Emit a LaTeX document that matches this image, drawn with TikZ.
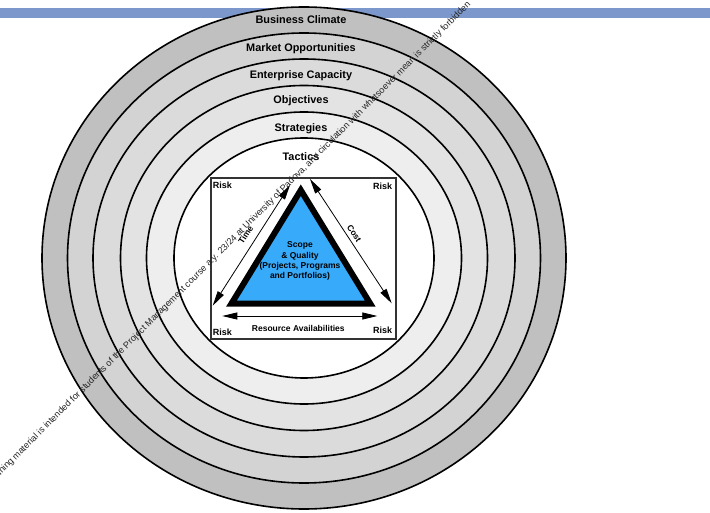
\documentclass[tikz,border=0pt]{standalone}
\usepackage{fontspec}
\setmainfont{Liberation Sans}
\usetikzlibrary{arrows.meta}
\definecolor{barblue}{RGB}{124,151,203}
\definecolor{ringA}{HTML}{C0C0C0}
\definecolor{ringB}{HTML}{D3D3D3}
\definecolor{ringC}{HTML}{DBDBDB}
\definecolor{ringD}{HTML}{E3E3E3}
\definecolor{ringE}{HTML}{EEEEEE}
\definecolor{scopeblue}{RGB}{56,170,250}

\begin{document}
\begin{tikzpicture}[x=1pt, y=-1pt,
    ring/.style={draw=black, line width=1.6pt},
    layer/.style={font=\fontsize{10.9}{12}\selectfont\bfseries},
    risk/.style={font=\fontsize{9}{10}\selectfont\bfseries},
    small/.style={font=\fontsize{8.5}{10.1}\selectfont\bfseries},
    dbl/.style={{Triangle[length=15pt,width=7pt]}-{Triangle[length=15pt,width=7pt]}, line width=0.8pt}]
    \useasboundingbox (0,0) rectangle (710,513);
    % header bar
    \fill[barblue] (0,8) rectangle (710,18);
    % rings, from outside in
    \coordinate (O) at (304,258);
    \draw[ring, fill=ringA] (O) ellipse [x radius=262, y radius=251];
    \draw[ring, fill=ringB] (O) ellipse [x radius=236.5, y radius=225];
    \draw[ring, fill=ringC] (O) ellipse [x radius=211, y radius=199];
    \draw[ring, fill=ringD] (O) ellipse [x radius=183.5, y radius=172.5];
    \draw[ring, fill=ringE] (O) ellipse [x radius=157.5, y radius=146];
    \draw[ring, fill=white] (O) ellipse [x radius=130, y radius=120];
    \node[layer] (climate) at (301,20) {Business Climate};
    \node[layer] (market) at (301,49) {Market Opportunities};
    \node[layer] (capacity) at (301,76) {Enterprise Capacity};
    \node[layer] (objectives) at (301,101) {Objectives};
    \node[layer] (strategies) at (301,129) {Strategies};
    \node[layer] (tactics) at (301,157) {Tactics};
    % box with the triangle
    \draw[line width=1.2pt, draw=black!80] (211,178) rectangle (396,339);
    \node[risk] (riskTL) at (222.3,185.7) {Risk};
    \node[risk] (riskTR) at (382.7,186.7) {Risk};
    \node[risk] (riskBL) at (222.3,332.3) {Risk};
    \node[risk] (riskBR) at (382.7,330.7) {Risk};
    \coordinate (T) at (300.8,190.2);
    \coordinate (L) at (231.4,303.7);
    \coordinate (R) at (370.3,303.7);
    \draw[line width=6pt, fill=scopeblue] (T) -- (L) -- (R) -- cycle;
    \node[small, align=center] (scope) at (300,261) {Scope\\\& Quality\\(Projects, Programs\\and Portfolios)};
    % constraint arrows
    \coordinate (timeA) at (212.7,305.7);
    \coordinate (timeB) at (290,185);
    \coordinate (costA) at (310,179);
    \coordinate (costB) at (391.7,303.3);
    \coordinate (resA) at (222.3,316);
    \coordinate (resB) at (377.3,316);
    \draw[dbl] (timeA) -- (timeB);
    \draw[dbl] (costA) -- (costB);
    \draw[dbl] (resA) -- (resB);
    \node[small, rotate=57.4] (time) at (245.7,235) {Time};
    \node[small, rotate=-56.7] (cost) at (354.3,233.3) {Cost};
    \node[small] (resource) at (298.3,328) {Resource Availabilities};
    % watermark
    \node[anchor=base west, rotate=45, inner sep=0pt, text=black!85,
        font=\fontsize{9.1}{10}\selectfont] (mark) at (-21,497)
        {This training material is intended for students of the Project Management course a.y. 23/24 at University of Padova, any circulation with whatsoever mean is strictly forbidden};
\end{tikzpicture}
\end{document}
